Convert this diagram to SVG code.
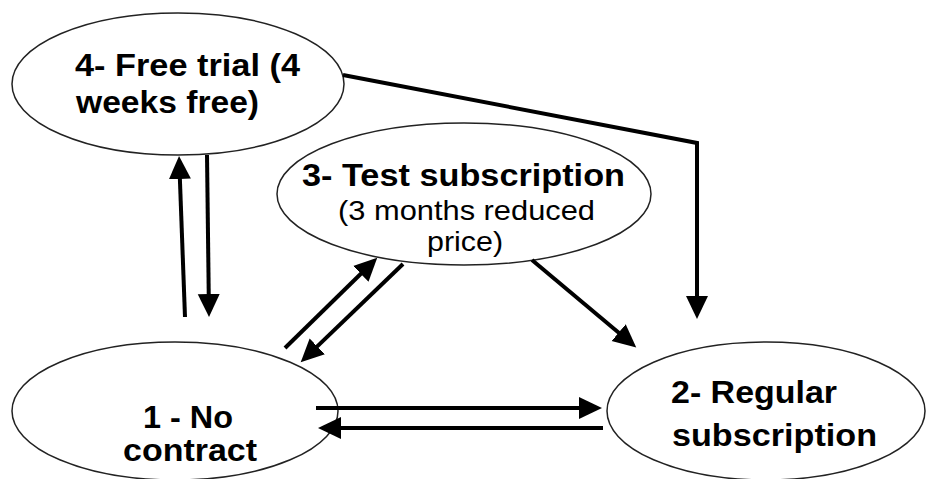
<svg xmlns="http://www.w3.org/2000/svg" width="927" height="479" viewBox="0 0 927 479">
<style>
.node ellipse{fill:#fff;stroke:#222;stroke-width:1.5}
.b{font-family:"Liberation Sans",Arial,sans-serif;font-weight:bold;font-size:32px;fill:#000}
.r{font-family:"Liberation Sans",Arial,sans-serif;font-size:28px;fill:#000}
.edge{stroke:#000;stroke-width:4;fill:none;marker-end:url(#ah)}
</style>
<defs>
<marker id="ah" markerUnits="userSpaceOnUse" markerWidth="24" markerHeight="24" refX="13" refY="12" orient="auto" viewBox="0 0 24 24">
<path d="M0,1 L23,12 L0,23 Z" fill="#000"/>
</marker>
</defs>
<rect width="927" height="479" fill="#fff"/>
<g id="n4" class="node">
<ellipse cx="178" cy="84" rx="166" ry="71"/>
<text class="b" x="75" y="76" textLength="225" lengthAdjust="spacingAndGlyphs">4- Free trial (4</text>
<text class="b" x="76" y="113" textLength="183" lengthAdjust="spacingAndGlyphs">weeks free)</text>
</g>
<g id="n3" class="node">
<ellipse cx="464" cy="194" rx="187" ry="71"/>
<text class="b" x="302" y="186" textLength="323" lengthAdjust="spacingAndGlyphs">3- Test subscription</text>
<text class="r" x="338" y="220" textLength="257" lengthAdjust="spacingAndGlyphs">(3 months reduced</text>
<text class="r" x="427" y="251" textLength="76" lengthAdjust="spacingAndGlyphs">price)</text>
</g>
<g id="n1" class="node">
<ellipse cx="175" cy="411" rx="163" ry="69"/>
<text class="b" x="143" y="428" textLength="90" lengthAdjust="spacingAndGlyphs">1 - No</text>
<text class="b" x="123" y="461" textLength="134" lengthAdjust="spacingAndGlyphs">contract</text>
</g>
<g id="n2" class="node">
<ellipse cx="766" cy="411" rx="159" ry="69"/>
<text class="b" x="671" y="403" textLength="166" lengthAdjust="spacingAndGlyphs">2- Regular</text>
<text class="b" x="672" y="446" textLength="205" lengthAdjust="spacingAndGlyphs">subscription</text>
</g>
<g id="connectors">
<polyline class="edge" points="343,75 697,143 697,309"/>
<line class="edge" x1="532" y1="260" x2="628.6" y2="341"/>
<line class="edge" x1="285" y1="348" x2="370.1" y2="264.7"/>
<line class="edge" x1="403" y1="264" x2="307.9" y2="355.4"/>
<line class="edge" x1="185" y1="317" x2="179.4" y2="166"/>
<line class="edge" x1="207" y1="155" x2="208.9" y2="307"/>
<line class="edge" x1="316" y1="408" x2="592" y2="408"/>
<line class="edge" x1="603" y1="428" x2="328" y2="428"/>
</g>
</svg>
